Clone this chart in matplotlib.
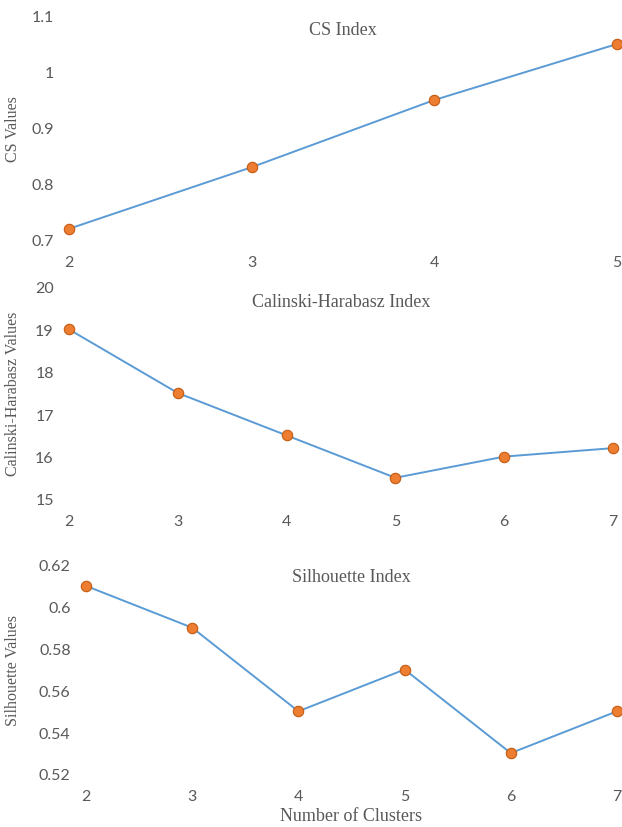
import matplotlib.pyplot as plt

# Datos de los tres índices
k_cs = [2, 3, 4, 5]
cs_vals = [0.72, 0.83, 0.95, 1.05]

k_ch = [2, 3, 4, 5, 6, 7]
ch_vals = [19.0, 17.5, 16.5, 15.5, 16.0, 16.2]

k_sil = [2, 3, 4, 5, 6, 7]
sil_vals = [0.61, 0.59, 0.55, 0.57, 0.53, 0.55]

cs_ticks = [0.7, 0.8, 0.9, 1.0, 1.1]
cs_labels = ['0.7', '0.8', '0.9', '1', '1.1']
ch_ticks = [15, 16, 17, 18, 19, 20]
sil_ticks = [0.52, 0.54, 0.56, 0.58, 0.6, 0.62]
sil_labels = ['0.52', '0.54', '0.56', '0.58', '0.6', '0.62']

LINE = '#5B9BD5'
MARK = '#ED7D31'
TXT = '#595959'
SERIF = 'Liberation Serif'

W, H = 622, 828
fig = plt.figure(figsize=(W / 100, H / 100), dpi=100)


def px_axes(x0, x1, ytop, ybot):
    return fig.add_axes([x0 / W, 1 - ybot / H, (x1 - x0) / W, (ybot - ytop) / H])


def panel(ax, x, y, xlim, ylim, yt, ylbl, title, ylabel, title_y):
    ax.plot(x, y, color=LINE, lw=1.4, marker='o', ms=7.5,
            mfc=MARK, mec='#C55A11', mew=0.8, clip_on=False, zorder=3)
    ax.set_xlim(xlim)
    ax.set_ylim(ylim)
    ax.set_xticks(x)
    ax.set_yticks(yt)
    ax.set_yticklabels(ylbl)
    for s in ax.spines.values():
        s.set_visible(False)
    ax.tick_params(length=0, pad=11, labelsize=11.5, labelcolor=TXT)
    for lab in ax.get_xticklabels() + ax.get_yticklabels():
        lab.set_family('Lato')
    ax.text(0.5, title_y, title, transform=ax.transAxes, ha='center',
            va='center', family=SERIF, fontsize=13, color=TXT)
    ax.set_ylabel(ylabel, family=SERIF, fontsize=11.5, color=TXT)


ax1 = px_axes(69, 617, 17, 241)
panel(ax1, k_cs, cs_vals, (2, 5), (0.7, 1.1), cs_ticks, cs_labels,
      'CS Index', 'CS Values', 0.94)
ax1.yaxis.set_label_coords(-0.088, 0.5)

ax2 = px_axes(69, 613, 288, 500)
panel(ax2, k_ch, ch_vals, (2, 7), (15, 20), ch_ticks, [str(t) for t in ch_ticks],
      'Calinski-Harabasz Index', 'Calinski-Harabasz Values', 0.93)
ax2.yaxis.set_label_coords(-0.088, 0.5)

ax3 = px_axes(86, 617, 566, 775)
panel(ax3, k_sil, sil_vals, (2, 7), (0.52, 0.62), sil_ticks, sil_labels,
      'Silhouette Index', 'Silhouette Values', 0.947)
ax3.yaxis.set_label_coords(-0.122, 0.5)
ax3.set_xlabel('Number of Clusters', family=SERIF, fontsize=13, color=TXT, labelpad=3)

fig.savefig('out.png', dpi=100)
